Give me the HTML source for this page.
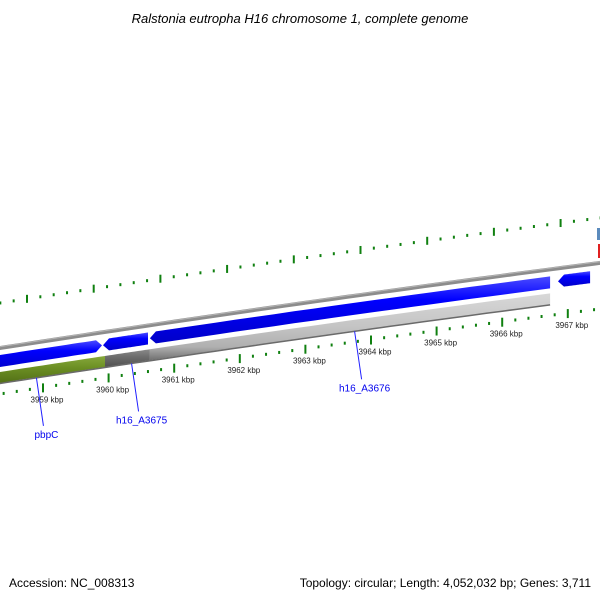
<!DOCTYPE html>
<html><head><meta charset="utf-8"><style>
html,body{margin:0;padding:0;background:#fff;width:600px;height:600px;overflow:hidden}
svg{display:block;font-family:"Liberation Sans","DejaVu Sans",sans-serif}
</style></head><body>
<svg id="map" width="600" height="600" viewBox="0 0 600 600" xmlns="http://www.w3.org/2000/svg">
<defs>
<linearGradient id="gBlue" x1="0" y1="0" x2="0" y2="1"><stop offset="0" stop-color="#4b4bff"/><stop offset="0.35" stop-color="#0000ff"/><stop offset="1" stop-color="#0000c8"/></linearGradient>
<linearGradient id="gGreen" x1="0" y1="0" x2="0" y2="1"><stop offset="0" stop-color="#86a83c"/><stop offset="0.4" stop-color="#6b8e23"/><stop offset="1" stop-color="#4e6a14"/></linearGradient>
<linearGradient id="gDark" x1="0" y1="0" x2="0" y2="1"><stop offset="0" stop-color="#8a8a8a"/><stop offset="0.4" stop-color="#6e6e6e"/><stop offset="1" stop-color="#505050"/></linearGradient>
<linearGradient id="gLight" x1="0" y1="0" x2="0" y2="1"><stop offset="0" stop-color="#d8d8d8"/><stop offset="0.5" stop-color="#c4c4c4"/><stop offset="0.8" stop-color="#b0b0b0"/><stop offset="1" stop-color="#707070"/></linearGradient>
</defs>
<text x="300" y="23" text-anchor="middle" font-size="13" font-style="italic" fill="#000">Ralstonia eutropha H16 chromosome 1, complete genome</text>
<g id="layer"></g>
<rect x="597" y="228" width="3" height="12" fill="#5b8bbd"/>
<rect x="598" y="244" width="2" height="14" fill="#e02020"/>
<text x="9" y="587" font-size="12" fill="#000">Accession: NC_008313</text>
<text x="591" y="587" font-size="12" text-anchor="end" fill="#000">Topology: circular; Length: 4,052,032 bp; Genes: 3,711</text>
</svg>
<script>
// ---- data (kbp) ----
const tickLabels = [3959,3960,3961,3962,3963,3964,3965,3966,3967];
const blueGeneStarts = [3957.0, 3959.915, 3960.63, 3966.85];
const blueGeneEnds   = [3959.90, 3960.60, 3966.73, 3967.34];
const blueGeneStrand = [1, -1, -1, -1];
const lowerNames  = ['pbpC-region','h16_A3675-region','h16_A3676-region'];
const lowerStarts = [3957.0, 3959.945, 3960.63];
const lowerEnds   = [3959.945, 3960.63, 3966.73];
const lowerFills  = ['url(#gGreen)','url(#gDark)','url(#gLight)'];
const geneLabels  = ['pbpC','h16_A3675','h16_A3676'];
const geneLabelPos = [3958.9, 3960.35, 3963.75];

// ---- axes ----
const NS='http://www.w3.org/2000/svg';
const layer=document.getElementById('layer');
function xOf(k){return 43+(k-3959)*65.6;}
function xOuter(k){return 27+(k-3959)*66.7;}
function curve(a,x){return a-0.155*x+2.2e-5*x*x;}
const Y_OUT=303, Y_BACK=348, Y_BLUE=361, Y_LOW=377.5, Y_TICK=394;
function mk(tag,attrs,name){const e=document.createElementNS(NS,tag);for(const k in attrs)e.setAttribute(k,attrs[k]);


layer.appendChild(e);return e;}
function band(x1,x2,yc,h,dir){
  x1=Math.max(x1,-20);x2=Math.min(x2,620);
  const tip=6, pts=[];const steps=20;
  let a=x1,b=x2;
  if(dir===-1)a=x1+tip; if(dir===1)b=x2-tip;
  for(let i=0;i<=steps;i++){const x=a+(b-a)*i/steps;pts.push([x,curve(yc,x)-h/2]);}
  if(dir===1)pts.push([x2,curve(yc,x2)]);
  for(let i=steps;i>=0;i--){const x=a+(b-a)*i/steps;pts.push([x,curve(yc,x)+h/2]);}
  if(dir===-1)pts.push([x1,curve(yc,x1)]);
  return pts.map(p=>p[0].toFixed(1)+','+p[1].toFixed(1)).join(' ');
}
function line(yc,x1,x2){let d='';for(let i=0;i<=40;i++){const x=x1+(x2-x1)*i/40;d+=(i?'L':'M')+x.toFixed(1)+','+curve(yc,x).toFixed(1);}return d;}

// backbone
mk('path',{d:line(Y_BACK,-10,610),stroke:'#8c8c8c','stroke-width':4,fill:'none'},'backbone-ring');
mk('path',{d:line(Y_BACK-1.2,-10,610),stroke:'#b4b4b4','stroke-width':1,fill:'none'},'backbone-highlight');

// blue genes
blueGeneStarts.forEach((s,i)=>{
  mk('polygon',{points:band(xOf(s),xOf(blueGeneEnds[i]),Y_BLUE,12,blueGeneStrand[i]),fill:'url(#gBlue)'},'forward-gene-'+(i+1));
});
// lower features
lowerStarts.forEach((s,i)=>{
  mk('polygon',{points:band(xOf(s),xOf(lowerEnds[i]),Y_LOW,11,0),fill:lowerFills[i]},lowerNames[i]);
});
mk('path',{d:line(Y_LOW+6,xOf(lowerStarts[0]),xOf(lowerEnds[2])),stroke:'#6a6a6a','stroke-width':1.5,fill:'none'},'lower-track-edge');

// lower ticks (every 0.2 kbp)
for(let k=3958.4;k<=3967.6;k+=0.2){
  const kk=Math.round(k*10)/10, x=xOf(kk); if(x<-2||x>602)continue;
  const major=Math.abs(kk-Math.round(kk))<0.01, y=curve(Y_TICK,x);
  mk('line',{x1:x,x2:x,y1:major?y-4:y-1.5,y2:major?y+5:y+1.5,stroke:'#108010','stroke-width':2},major?'tick-major':'tick-minor');
}
// outer ticks
for(let k=3958.4;k<=3967.6;k+=0.2){
  const kk=Math.round(k*10)/10, x=xOuter(kk); if(x<-2||x>602)continue;
  const major=Math.abs(kk-Math.round(kk))<0.01, y=curve(Y_OUT,x);
  mk('line',{x1:x,x2:x,y1:major?y-4:y-1.5,y2:major?y+4:y+1.5,stroke:'#108010','stroke-width':2},major?'outer-tick-major':'outer-tick-minor');
}
// tick labels
tickLabels.forEach(k=>{
  const x=xOf(k), y=curve(Y_TICK,x)+15;
  const t=mk('text',{x:x+4,y:y,'font-size':8,'text-anchor':'middle',fill:'#222'},'tick-label-'+k);
  t.textContent=k+' kbp';
});
// gene labels
geneLabels.forEach((g,i)=>{
  const x=xOf(geneLabelPos[i]), y0=curve(Y_LOW+10,x);
  mk('line',{x1:x,y1:y0-4,x2:x+7,y2:y0+44,stroke:'#2020ff','stroke-width':1},'label-line-'+g);
  const t=mk('text',{x:x+10,y:y0+56,'font-size':10,'text-anchor':'middle',fill:'#0000ee'},'gene-label-'+g);
  t.textContent=g;
});
</script>
</body></html>
